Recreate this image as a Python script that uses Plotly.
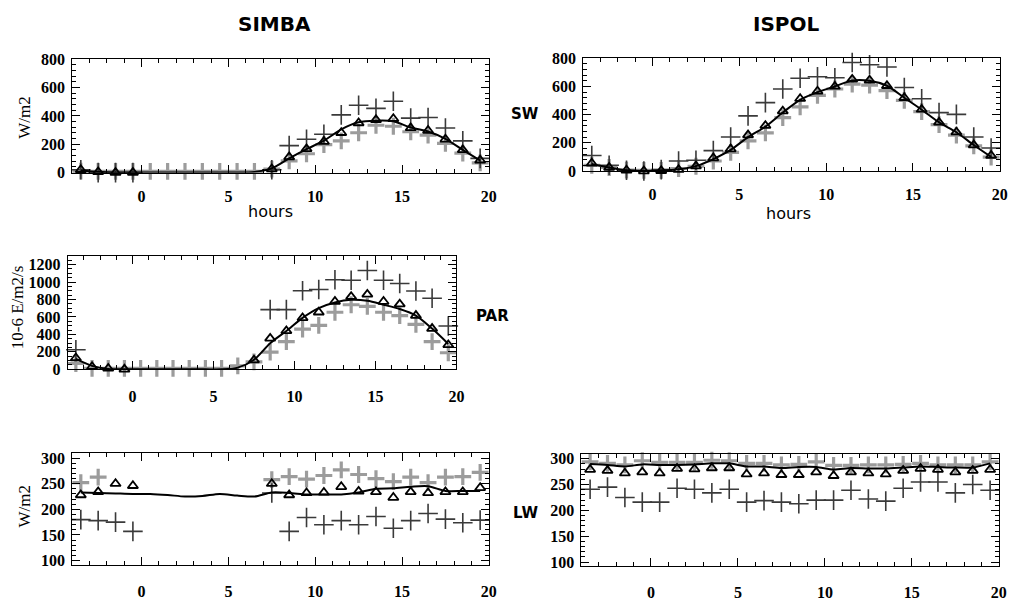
import plotly.graph_objects as go

# ---------------- data ----------------
hours = [-3.5, -2.5, -1.5, -0.5, 0.5, 1.5, 2.5, 3.5, 4.5, 5.5, 6.5, 7.5,
         8.5, 9.5, 10.5, 11.5, 12.5, 13.5, 14.5, 15.5, 16.5, 17.5, 18.5, 19.5]
N = None

# SIMBA shortwave
simba_sw_tri = [20, 5, 0, 0, N, N, N, N, N, N, N, 25,
                110, 167, 219, 281, 350, 373, 380, 315, 297, 235, 160, 87]
simba_sw_dark = [20, 0, 0, 0, N, N, N, N, N, N, N, 20,
                 190, 235, 270, 407, 475, 453, 503, 384, 389, 315, 224, 100]
simba_sw_light = [10, 8, 8, 8, 8, 8, 8, 8, 8, 8, 8, 25,
                  82, 133, 197, 224, 281, 334, 327, 288, 265, 206, 137, 69]
simba_sw_line = [15, 5, 0, 0, 0, 0, 0, 0, 0, 0, 5, 30,
                 100, 165, 225, 305, 355, 366, 362, 318, 290, 238, 160, 85]

# ISPOL shortwave
ispol_sw_tri = [55, 25, 5, 0, 2, 10, 35, 92, 156, 255, 322, 425,
                513, 566, 600, 650, 644, 605, 520, 437, 345, 276, 184, 110]
ispol_sw_dark = [110, 41, 5, 0, 10, 71, 76, 145, 241, 391, 485, 582,
                 658, 669, 662, 770, 754, 738, 593, 513, 414, 402, 241, 163]
ispol_sw_light = [41, 25, 7, 5, 5, 18, 34, 71, 133, 214, 271, 379,
                  455, 536, 582, 616, 609, 570, 501, 421, 329, 255, 179, 99]
ispol_sw_line = [50, 25, 5, 0, 3, 12, 35, 85, 150, 240, 315, 415,
                 505, 560, 600, 642, 640, 605, 520, 435, 345, 275, 185, 100]

# SIMBA PAR
simba_par_tri = [130, 30, 10, 0, N, N, N, N, N, N, N, 105,
                 355, 441, 590, 654, 777, 833, 859, 777, 747, 616, 467, 280]
simba_par_dark = [224, N, N, N, N, N, N, N, N, N, N, N,
                  684, 684, 900, 915, 1027, 1020, 1132, 1020, 983, 897, 814, 497]
simba_par_light = [67, 10, 10, 10, 10, 10, 10, 10, 10, 10, 40, 86,
                   198, 318, 460, 504, 654, 740, 721, 654, 616, 516, 318, 190]
simba_par_line = [120, 40, 5, 0, 0, 0, 0, 0, 0, 0, 20, 110,
                  300, 440, 590, 702, 766, 796, 785, 740, 691, 616, 467, 291]

# SIMBA longwave
simba_lw_tri = [228, 234, 250, 246, N, N, N, N, N, N, N, 250,
                228, 232, 233, 244, 235, 234, 223, 234, 232, 234, 234, 242]
simba_lw_dark = [180, 178, 175, 157, N, N, N, N, N, N, N, 232,
                 157, 184, 170, 178, 170, 186, 163, 178, 192, 181, 174, 179]
simba_lw_light = [252, 263, N, N, N, N, N, N, N, N, N, 258,
                  264, 259, 266, 277, 268, 260, 254, 263, 252, 263, 264, 272]
simba_lw_line = [233, 232, 231, 230, 230, 228, 225, 226, 230, 227, 225, 233,
                 232, 229, 229, 229, 233, 240, 241, 244, 245, 236, 236, 236]

# ISPOL longwave
ispol_lw_tri = [279, 277, 272, 274, 272, 281, 280, 282, 282, 270, 272, 269,
                269, 274, 267, 274, 272, 270, 277, 281, 279, 274, 277, 279]
ispol_lw_dark = [241, 245, 225, 216, 216, 243, 241, 234, 241, 216, 219, 216,
                 213, 220, 220, 239, 222, 218, 243, 255, 255, 234, 250, 239]
ispol_lw_light = [294, 291, 288, 296, 293, 293, 293, 297, 296, 291, 291, 288,
                  289, 294, 287, 287, 288, 288, 289, 291, 288, 288, 288, 294]
ispol_lw_line = [290, 288, 285, 289, 288, 288, 289, 291, 291, 285, 285, 282,
                 284, 284, 279, 282, 281, 281, 283, 285, 284, 283, 283, 291]

x_ticks = [0, 5, 10, 15, 20]
sw_ticks = [0, 200, 400, 600, 800]
par_ticks = [0, 200, 400, 600, 800, 1000, 1200]
lw_ticks = [100, 150, 200, 250, 300]

# ---------------- figure ----------------
W, H = 1021, 610
fig = go.Figure()

DARK = "#3a3a3a"
LIGHT = "#9c9c9c"


def px_dom_x(a, b):
    return [a / W, b / W]


def px_dom_y(top, bottom):
    return [1 - bottom / H, 1 - top / H]


panels = [
    ("", (72.7, 492.7), (52.7, 169.3), [0, 800], sw_ticks, 40,
     (simba_sw_light, simba_sw_dark, simba_sw_line, simba_sw_tri)),
    ("2", (587.7, 1007.7), (51.7, 167.7), [0, 800], sw_ticks, 40,
     (ispol_sw_light, ispol_sw_dark, ispol_sw_line, ispol_sw_tri)),
    ("3", (68.3, 460.0), (255.0, 371.7), [0, 1300], par_ticks, 50,
     (simba_par_light, simba_par_dark, simba_par_line, simba_par_tri)),
    ("4", (72.7, 492.7), (457.7, 572.7), [92, 310], lw_ticks, 10,
     (simba_lw_light, simba_lw_dark, simba_lw_line, simba_lw_tri)),
    ("5", (586.0, 1006.7), (458.3, 574.3), [92, 310], lw_ticks, 10,
     (ispol_lw_light, ispol_lw_dark, ispol_lw_line, ispol_lw_tri)),
]

tickfont = dict(family="Liberation Serif", size=16, color="black",
                weight="bold")

for suf, xd, yd, yr, yt, ymin, (light, dark, line, tri) in panels:
    xa = "x" + suf
    ya = "y" + suf
    fig.add_trace(go.Scatter(
        x=hours, y=light, xaxis=xa, yaxis=ya, mode="markers",
        marker=dict(symbol="cross-thin-open", size=12, color=LIGHT,
                    line=dict(color=LIGHT, width=3.2)),
        cliponaxis=False, showlegend=False))
    fig.add_trace(go.Scatter(
        x=hours, y=dark, xaxis=xa, yaxis=ya, mode="markers",
        marker=dict(symbol="cross-thin-open", size=14, color=DARK,
                    line=dict(color=DARK, width=1.6)),
        cliponaxis=False, showlegend=False))
    fig.add_trace(go.Scatter(
        x=hours, y=line, xaxis=xa, yaxis=ya, mode="lines",
        line=dict(color="black", width=2, shape="spline", smoothing=0.8),
        showlegend=False))
    fig.add_trace(go.Scatter(
        x=hours, y=tri, xaxis=xa, yaxis=ya, mode="markers",
        marker=dict(symbol="triangle-up-open", size=9, color="black",
                    line=dict(color="black", width=1.8)),
        cliponaxis=False, showlegend=False))

    common = dict(showline=True, linecolor="black", linewidth=1,
                  mirror="allticks", ticks="inside", ticklen=8,
                  tickwidth=1, tickcolor="black", showgrid=False,
                  zeroline=False, tickfont=tickfont)
    xstand = 9 if suf in ("", "2") else 12
    fig.update_layout(**{
        "xaxis" + suf: dict(domain=px_dom_x(*xd), range=[-4, 20],
                            anchor=ya, tickvals=x_ticks,
                            minor=dict(dtick=1, ticks="inside", ticklen=4,
                                       tickcolor="black", showgrid=False),
                            ticklabelstandoff=xstand, **common),
        "yaxis" + suf: dict(domain=px_dom_y(*yd), range=yr, anchor=xa,
                            tickvals=yt,
                            minor=dict(dtick=ymin, tick0=0, ticks="inside",
                                       ticklen=4, tickcolor="black",
                                       showgrid=False),
                            ticklabelstandoff=3, **common),
    })

ann = []
bold = dict(family="DejaVu Sans", size=20, color="black", weight="bold")
ann.append(dict(text="SIMBA", x=277 / W, y=1 - 16 / H, font=bold))
ann.append(dict(text="ISPOL", x=793 / W, y=1 - 16 / H, font=bold))
hf = dict(family="DejaVu Sans", size=16, color="black")
ann.append(dict(text="hours", x=273 / W, y=1 - 209 / H, font=hf))
ann.append(dict(text="hours", x=795 / W, y=1 - 211 / H, font=hf))
rf = dict(family="DejaVu Sans", size=15, color="black", weight="bold")
ann.append(dict(text="SW", x=529 / W, y=1 - 109 / H, font=rf))
ann.append(dict(text="PAR", x=496 / W, y=1 - 317 / H, font=rf))
ann.append(dict(text="LW", x=530 / W, y=1 - 519 / H, font=rf))
yf = dict(family="Liberation Serif", size=17, color="black")
ann.append(dict(text="W/m2", x=25 / W, y=1 - 112 / H, font=yf, textangle=-90))
ann.append(dict(text="10-6 E/m2/s", x=18 / W, y=1 - 308 / H, font=yf,
                textangle=-90))
ann.append(dict(text="W/m2", x=25 / W, y=1 - 512 / H, font=yf, textangle=-90))
for a in ann:
    a.update(xref="paper", yref="paper", showarrow=False,
             xanchor="center", yanchor="middle")

fig.update_layout(width=W, height=H, margin=dict(l=0, r=0, t=0, b=0),
                  paper_bgcolor="white", plot_bgcolor="white",
                  annotations=ann, showlegend=False)

fig.write_html("out.html", config={"displayModeBar": False},
               post_script="document.body.style.margin='0px';")
